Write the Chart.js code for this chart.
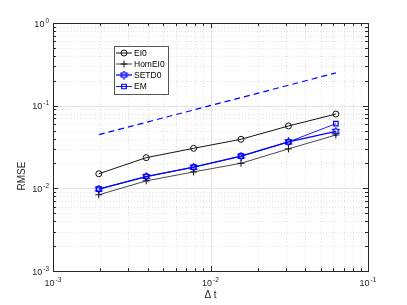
<!DOCTYPE html>
<html><head><meta charset="utf-8">
<script src="https://cdn.jsdelivr.net/npm/chart.js@4/dist/chart.umd.min.js"></script>
<style>html,body{margin:0;padding:0;background:#fff}#wrap{width:407px;height:305px}</style>
</head><body><div id="wrap"><canvas id="c" width="407" height="305"></canvas></div>
<script>
const dt = [0.001953, 0.003906, 0.007813, 0.015625, 0.03125, 0.0625];
const EI0 = [0.0150, 0.0235, 0.0305, 0.0392, 0.0568, 0.0792];
const HomEI0 = [0.00835, 0.0123, 0.0158, 0.0201, 0.0300, 0.0442];
const SETD0 = [0.0098, 0.0139, 0.0180, 0.0245, 0.0364, 0.0490];
const EM = [0.0098, 0.0139, 0.0180, 0.0245, 0.0364, 0.0605];
const refX = [0.001953, 0.0625];
const refY = [0.0446, 0.249];
const xTickExps = [-3, -2, -1];
const yTickExps = [-3, -2, -1, 0];
const legendNames = ['EI0', 'HomEI0', 'SETD0', 'EM'];
const xLabel = 'Δ t';
const yLabel = 'RMSE';

const FONT = '"Liberation Sans", Arial, sans-serif';
const BLUE = '#0000ff';

function hexagram(color, size) {
  const c = document.createElement('canvas');
  c.width = size; c.height = size;
  const g = c.getContext('2d');
  const cx = size / 2, cy = size / 2, R = size / 2 - 0.8, r = R * 0.58;
  g.beginPath();
  for (let i = 0; i < 12; i++) {
    const a = -Math.PI / 2 + i * Math.PI / 6;
    const rr = i % 2 === 0 ? R : r;
    const px = cx + rr * Math.cos(a), py = cy + rr * Math.sin(a);
    if (i === 0) g.moveTo(px, py); else g.lineTo(px, py);
  }
  g.closePath();
  g.strokeStyle = color; g.lineWidth = 1.1; g.stroke();
  return c;
}
const hexImg = hexagram(BLUE, 9);

function pts(xs, ys) { return xs.map((x, i) => ({x: x, y: ys[i]})); }

const datasets = [
  {label: 'ref', data: pts(refX, refY), borderColor: BLUE, borderWidth: 1.2, borderDash: [6, 4], pointRadius: 0, fill: false},
  {label: legendNames[0], data: pts(dt, EI0), borderColor: '#111', borderWidth: 1, pointStyle: 'circle', pointRadius: 3, pointBorderWidth: 1, pointBackgroundColor: 'rgba(0,0,0,0)', pointBorderColor: '#111'},
  {label: legendNames[1], data: pts(dt, HomEI0), borderColor: '#333', borderWidth: 0.9, pointStyle: 'cross', pointRadius: 3.5, pointBorderWidth: 1, pointBorderColor: '#111'},
  {label: legendNames[2], data: pts(dt, SETD0), borderColor: BLUE, borderWidth: 1.3, pointStyle: hexImg, pointRadius: 4},
  {label: legendNames[3], data: pts(dt, EM), borderColor: '#2020ff', borderWidth: 1, pointStyle: 'rect', pointRadius: 3.2, pointBorderWidth: 1.2, pointBackgroundColor: 'rgba(0,0,0,0)', pointBorderColor: BLUE}
];

function drawPow(ctx, exp, x, y, align) {
  const base = '10', ex = String(exp);
  ctx.font = '9px ' + FONT;
  const wb = ctx.measureText(base).width;
  ctx.font = '6.5px ' + FONT;
  const we = ctx.measureText(ex).width;
  const tot = wb + 1 + we;
  let x0 = align === 'right' ? x - tot : x - tot / 2;
  ctx.fillStyle = '#262626';
  ctx.textBaseline = 'alphabetic';
  ctx.textAlign = 'left';
  ctx.font = '9px ' + FONT;
  ctx.fillText(base, x0, y);
  ctx.font = '6.5px ' + FONT;
  ctx.fillText(ex, x0 + wb + 1, y - 4);
}

const decor = {
  id: 'decor',
  beforeDatasetsDraw(chart) {
    const ctx = chart.ctx, xs = chart.scales.x, ys = chart.scales.y, a = chart.chartArea;
    ctx.save();
    ctx.strokeStyle = '#d4d4d4'; ctx.lineWidth = 0.7; ctx.setLineDash([1, 2]);
    for (let e = -3; e <= -2; e++) {
      for (let m = 2; m <= 9; m++) {
        const v = m * Math.pow(10, e);
        const px = Math.round(xs.getPixelForValue(v)) + 0.5; ctx.beginPath(); ctx.moveTo(px, a.top); ctx.lineTo(px, a.bottom); ctx.stroke();
      }
    }
    for (let e = -3; e < 0; e++) {
      for (let m = 2; m <= 9; m++) {
        const v = m * Math.pow(10, e);
        const py = Math.round(ys.getPixelForValue(v)) + 0.5; ctx.beginPath(); ctx.moveTo(a.left, py); ctx.lineTo(a.right, py); ctx.stroke();
      }
    }
    ctx.setLineDash([]); ctx.strokeStyle = '#e3e3e3'; ctx.lineWidth = 1;
    xTickExps.forEach(e => { const px = Math.round(xs.getPixelForValue(Math.pow(10, e))) + 0.5; ctx.beginPath(); ctx.moveTo(px, a.top); ctx.lineTo(px, a.bottom); ctx.stroke(); });
    yTickExps.forEach(e => { const py = Math.round(ys.getPixelForValue(Math.pow(10, e))) + 0.5; ctx.beginPath(); ctx.moveTo(a.left, py); ctx.lineTo(a.right, py); ctx.stroke(); });
    ctx.restore();
  },
  afterDatasetsDraw(chart) {
    const ctx = chart.ctx, xs = chart.scales.x, ys = chart.scales.y, a = chart.chartArea;
    ctx.save();
    ctx.strokeStyle = '#262626'; ctx.lineWidth = 1;
    for (let e = -3; e <= -2; e++) {
      for (let m = 1; m <= 10; m++) {
        const v = m * Math.pow(10, e);
        const px = Math.round(xs.getPixelForValue(v)) + 0.5;
        const L = (m === 1 || m === 10) ? 5 : 3;
        ctx.beginPath(); ctx.moveTo(px, a.bottom); ctx.lineTo(px, a.bottom - L); ctx.moveTo(px, a.top); ctx.lineTo(px, a.top + L); ctx.stroke();
      }
    }
    for (let e = -3; e <= -1; e++) {
      for (let m = 1; m <= 10; m++) {
        const v = m * Math.pow(10, e);
        const py = Math.round(ys.getPixelForValue(v)) + 0.5;
        const L = (m === 1 || m === 10) ? 5 : 3;
        ctx.beginPath(); ctx.moveTo(a.left, py); ctx.lineTo(a.left + L, py); ctx.moveTo(a.right, py); ctx.lineTo(a.right - L, py); ctx.stroke();
      }
    }
    ctx.strokeRect(Math.round(a.left) + 0.5, Math.round(a.top) + 0.5, Math.round(a.right - a.left), Math.round(a.bottom - a.top));
    xTickExps.forEach(e => drawPow(ctx, e, xs.getPixelForValue(Math.pow(10, e)), a.bottom + 15, 'center'));
    yTickExps.forEach(e => drawPow(ctx, e, a.left - 4, ys.getPixelForValue(Math.pow(10, e)) + 3.5, 'right'));
    ctx.fillStyle = '#262626';
    ctx.font = '10px ' + FONT; ctx.textAlign = 'center'; ctx.textBaseline = 'alphabetic';
    ctx.fillText(xLabel, xs.getPixelForValue(0.01), a.bottom + 27);
    ctx.save(); ctx.translate(25, 176); ctx.rotate(-Math.PI / 2); ctx.fillText(yLabel, 0, 0); ctx.restore();
    ctx.restore();
  },
  afterDraw(chart) {
    const ctx = chart.ctx;
    const bx = 114.5, by = 46.5, bw = 54, bh = 48;
    ctx.save();
    ctx.fillStyle = '#fff'; ctx.fillRect(bx, by, bw, bh);
    ctx.strokeStyle = '#555'; ctx.lineWidth = 1; ctx.strokeRect(bx, by, bw, bh);
    const rows = [53, 64, 75, 86.5];
    for (let i = 0; i < 4; i++) {
      const ds = chart.data.datasets[i + 1];
      const y = rows[i];
      ctx.strokeStyle = ds.borderColor; ctx.lineWidth = ds.borderWidth; ctx.setLineDash([]);
      ctx.beginPath(); ctx.moveTo(116, y); ctx.lineTo(132, y); ctx.stroke();
      const opts = {pointStyle: ds.pointStyle, radius: ds.pointRadius, borderWidth: ds.pointBorderWidth || 1, rotation: 0};
      ctx.strokeStyle = ds.pointBorderColor || ds.borderColor;
      ctx.fillStyle = 'rgba(0,0,0,0)';
      ctx.lineWidth = opts.borderWidth;
      Chart.helpers.drawPoint(ctx, opts, 124, y);
      ctx.fillStyle = '#000'; ctx.font = '8.5px ' + FONT; ctx.textAlign = 'left'; ctx.textBaseline = 'middle';
      ctx.fillText(ds.label, 134, y + 0.5);
    }
    ctx.restore();
  }
};

new Chart(document.getElementById('c'), {
  type: 'line',
  data: {datasets: datasets},
  options: {
    responsive: false, animation: false, devicePixelRatio: 1,
    layout: {padding: {left: 53, top: 23, right: 39, bottom: 34}},
    plugins: {legend: {display: false}, tooltip: {enabled: false}},
    elements: {line: {tension: 0}},
    scales: {
      x: {type: 'logarithmic', min: 0.001, max: 0.1, display: false},
      y: {type: 'logarithmic', min: 0.001, max: 1, display: false}
    }
  },
  plugins: [decor]
});
</script>
</body></html>
